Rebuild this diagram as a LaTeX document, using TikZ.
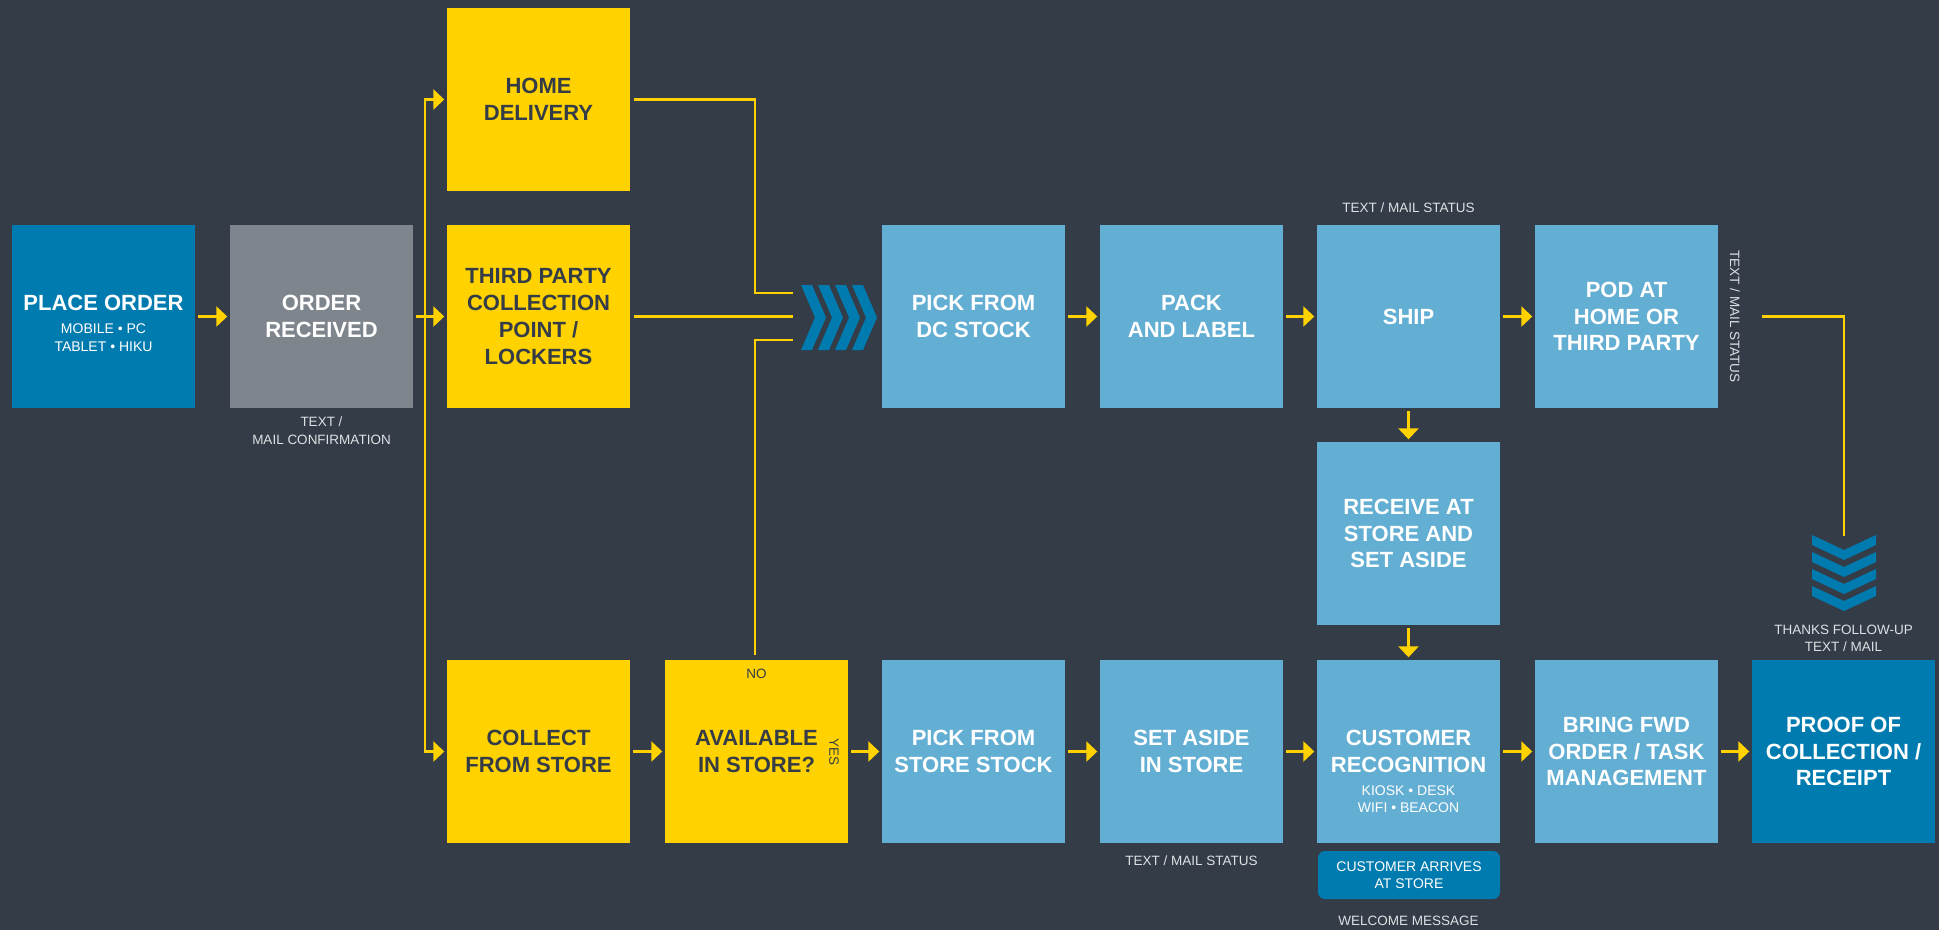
\documentclass[tikz,border=0pt]{standalone}
\usepackage{fontspec}
\setmainfont{Liberation Sans}
\usetikzlibrary{arrows.meta}
\definecolor{bg}{RGB}{51,60,71}
\definecolor{yel}{RGB}{255,210,0}
\definecolor{dkblue}{RGB}{0,123,175}
\definecolor{ltblue}{RGB}{99,174,211}
\definecolor{gry}{RGB}{127,133,141}
\definecolor{anno}{RGB}{222,225,228}
\newcommand{\boxfnt}{\fontsize{22}{26.7}\selectfont\bfseries}
\newcommand{\subfnt}{\fontsize{14}{18.3}\selectfont}
\newcommand{\annfnt}{\fontsize{13.5}{18}\selectfont}
\begin{document}
\begin{tikzpicture}[x=1pt,y=-1pt,
  box/.style={minimum width=183pt,minimum height=183pt,inner sep=0pt,align=center,font=\boxfnt},
  bluebox/.style={box,fill=ltblue,text=white},
  darkbox/.style={box,fill=dkblue,text=white},
  graybox/.style={box,fill=gry,text=white},
  yelbox/.style={box,fill=yel,text=bg},
  ttl/.style={inner sep=0pt,font=\boxfnt,text=white,align=center},
  subt/.style={inner sep=0pt,font=\subfnt,text=white,align=center},
  ann/.style={inner sep=0pt,font=\annfnt,text=anno,align=center},
  dk/.style={inner sep=0pt,font=\annfnt,text=bg},
  ln/.style={draw=yel,line width=2.6pt},
  tip/.tip={Triangle[length=11pt,width=20pt]},
  arr/.style={ln,-tip},
  chev/.style={fill=dkblue}
]
\fill[bg] (0,0) rectangle (1939,930);
\useasboundingbox (0,0) rectangle (1939,930);

% boxes
\node[darkbox] (po) at (103.5,316.5) {};
\node[ttl] (pot) at (103.5,302.5) {PLACE ORDER};
\node[subt] (pos) at (103.5,337.5) {MOBILE • PC\\TABLET • HIKU};
\node[graybox] (or) at (321.5,316.5) {ORDER\\RECEIVED};
\node[yelbox] (hd) at (538.5,99.5) {HOME\\DELIVERY};
\node[yelbox] (tp) at (538.5,316.5) {THIRD PARTY\\COLLECTION\\POINT /\\LOCKERS};
\node[yelbox] (cs) at (538.5,751.5) {COLLECT\\FROM STORE};
\node[yelbox] (av) at (756.5,751.5) {AVAILABLE\\IN STORE?};
\node[bluebox] (pdc) at (973.5,316.5) {PICK FROM\\DC STOCK};
\node[bluebox] (pk) at (1191.5,316.5) {PACK\\AND LABEL};
\node[bluebox] (sh) at (1408.5,316.5) {SHIP};
\node[bluebox] (pod) at (1626.5,316.5) {POD AT\\HOME OR\\THIRD PARTY};
\node[bluebox] (rc) at (1408.5,533.5) {RECEIVE AT\\STORE AND\\SET ASIDE};
\node[bluebox] (pss) at (973.5,751.5) {PICK FROM\\STORE STOCK};
\node[bluebox] (sa) at (1191.5,751.5) {SET ASIDE\\IN STORE};
\node[bluebox] (cr) at (1408.5,751.5) {CUSTOMER\\RECOGNITION};
\node[subt,font=\fontsize{14}{17}\selectfont] (crs) at (1408.5,799) {KIOSK • DESK\\WIFI • BEACON};
\node[bluebox] (bf) at (1626.5,751.5) {BRING FWD\\ORDER / TASK\\MANAGEMENT};
\node[darkbox] (pc) at (1843.5,751.5) {PROOF OF\\COLLECTION /\\RECEIPT};
\node[fill=dkblue,rounded corners=7pt,minimum width=182pt,minimum height=48pt,inner sep=0pt,
      align=center,text=white,font=\fontsize{14}{17.5}\selectfont] (ca) at (1409,875) {CUSTOMER ARRIVES\\AT STORE};

% annotations
\node[ann] (a1) at (321.5,431) {TEXT /\\MAIL CONFIRMATION};
\node[ann] (a2) at (1408.5,208) {TEXT / MAIL STATUS};
\node[ann,rotate=-90] (a3) at (1735,316.5) {TEXT / MAIL STATUS};
\node[ann] (a4) at (1191.5,861) {TEXT / MAIL STATUS};
\node[ann,font=\fontsize{13.5}{17}\selectfont] (a5) at (1843.5,638.5) {THANKS FOLLOW-UP\\TEXT / MAIL};
\node[ann] (a6) at (1408.5,920.5) {WELCOME MESSAGE};
\node[dk] (no) at (756.5,673.5) {NO};
\node[dk,rotate=-90] (yes) at (834,751.5) {YES};

% chevrons
\foreach \i in {0,1,2,3}
  \fill[chev] ({801+17*\i},285) -- ++(11,0) -- ++(14,32.5) -- ++(-14,32.5) -- ++(-11,0) -- ++(14,-32.5) -- cycle;
\foreach \i in {0,1,2,3}
  \fill[chev] (1812,{535+17*\i}) -- ++(32,15) -- ++(32,-15) -- ++(0,10) -- ++(-32,15) -- ++(-32,-15) -- cycle;
\coordinate (dch) at (1844,536);
\coordinate (k1) at (755,293);
\coordinate (c1) at (793,293);
\coordinate (c2) at (793,316.5);
\coordinate (c3) at (793,340);

% connectors
\draw[arr] ([xshift=3pt]po.east) -- ([xshift=-2.5pt]or.west);
\draw[arr] ([xshift=3pt]or.east) -- ([xshift=-2.5pt]tp.west);
\coordinate (bt) at ([xshift=-22pt]hd.west);
\coordinate (bb) at ([xshift=-22pt]cs.west);
\draw[ln,tip-tip] ([xshift=-2.5pt]hd.west) -- (bt) -- (bb) -- ([xshift=-2.5pt]cs.west);
\draw[ln] ([xshift=4pt]hd.east) -| (k1) -- (c1);
\draw[ln] ([xshift=4pt]tp.east) -- (c2);
\draw[ln] ([xshift=-1.5pt,yshift=5pt]av.north) |- (c3);
\draw[arr] ([xshift=3pt]pdc.east) -- ([xshift=-2.5pt]pk.west);
\draw[arr] ([xshift=3pt]pk.east) -- ([xshift=-2.5pt]sh.west);
\draw[arr] ([xshift=3pt]sh.east) -- ([xshift=-2.5pt]pod.west);
\draw[arr] ([yshift=-3pt]sh.south) -- ([yshift=2.5pt]rc.north);
\draw[arr] ([yshift=-3pt]rc.south) -- ([yshift=2.5pt]cr.north);
\draw[ln] ([xshift=44pt]pod.east) -| (dch);
\draw[arr] ([xshift=3pt]cs.east) -- ([xshift=-2.5pt]av.west);
\draw[arr] ([xshift=3pt]av.east) -- ([xshift=-2.5pt]pss.west);
\draw[arr] ([xshift=3pt]pss.east) -- ([xshift=-2.5pt]sa.west);
\draw[arr] ([xshift=3pt]sa.east) -- ([xshift=-2.5pt]cr.west);
\draw[arr] ([xshift=3pt]cr.east) -- ([xshift=-2.5pt]bf.west);
\draw[arr] ([xshift=3pt]bf.east) -- ([xshift=-2.5pt]pc.west);
\end{tikzpicture}
\end{document}
